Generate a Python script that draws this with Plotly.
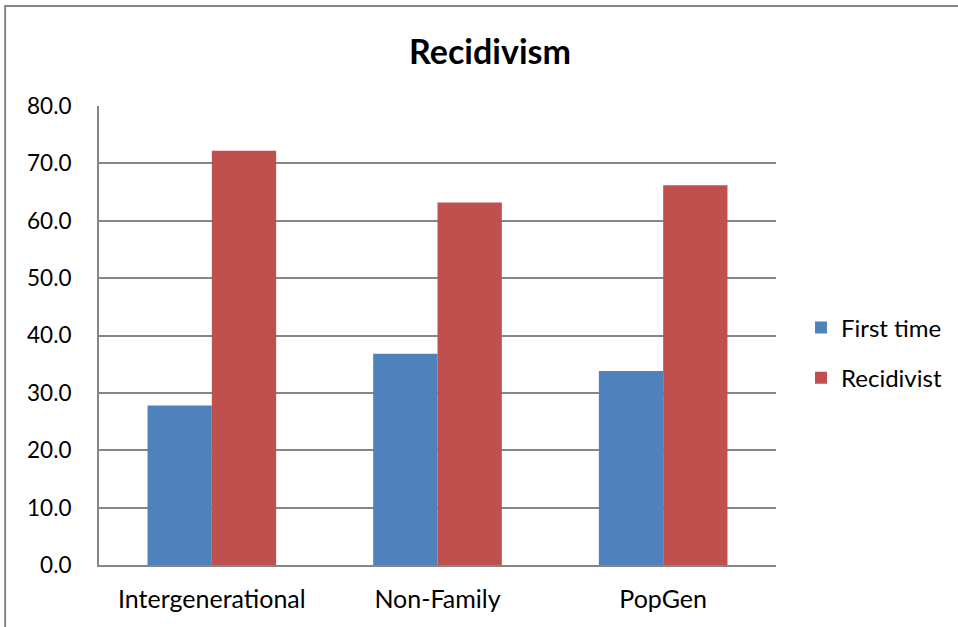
import plotly.graph_objects as go

categories = ["Intergenerational", "Non-Family", "PopGen"]
first_time = [27.8, 36.8, 33.8]
recidivist = [72.2, 63.2, 66.2]
y_ticks = [0, 10, 20, 30, 40, 50, 60, 70, 80]
y_tick_labels = ["0.0", "10.0", "20.0", "30.0", "40.0", "50.0", "60.0", "70.0", "80.0"]

FONT = "Lato"
L, R, T, B = 99, 958 - 777, 106, 627 - 565

fig = go.Figure()
fig.add_trace(go.Bar(name="First time", x=categories, y=first_time,
                     marker=dict(color="#4F81BD", line=dict(width=0)),
                     legendgroup="a"))
fig.add_trace(go.Bar(name="Recidivist", x=categories, y=recidivist,
                     marker=dict(color="#C0504D", line=dict(width=0)),
                     legendgroup="b"))

fig.update_layout(
    width=958, height=627,
    margin=dict(l=L, r=R, t=T, b=B),
    paper_bgcolor="white", plot_bgcolor="white",
    barmode="group", bargap=0.43, bargroupgap=0,
    font=dict(family=FONT, size=24, color="black"),
    title=dict(text="<b>Recidivism</b>", x=0.5115, xanchor="center",
               y=1 - 52 / 627, yanchor="middle", yref="container",
               font=dict(family=FONT, size=34, color="black")),
    legend=dict(x=(801 - L) / 678, xanchor="left", y=(565 - 353) / 459, yanchor="middle",
                font=dict(family=FONT, size=24), tracegroupgap=16,
                bgcolor="rgba(0,0,0,0)", itemwidth=30),
    xaxis=dict(showgrid=False, showline=True, linecolor="#868686", linewidth=2,
               ticks="", ticklabelstandoff=11, tickfont=dict(size=25)),
    yaxis=dict(range=[0, 80], tickvals=y_ticks, ticktext=y_tick_labels,
               showgrid=True, gridcolor="#868686", gridwidth=1.5,
               showline=True, linecolor="#868686", linewidth=2,
               zeroline=False, ticks="", ticklabelstandoff=21,
               tickfont=dict(size=22.5)),
    shapes=[dict(type="rect", xref="paper", yref="paper",
                 x0=(5 - L) / 678, x1=1.6, y0=-0.5, y1=(565 - 6) / 459,
                 line=dict(color="#868686", width=2), fillcolor="rgba(0,0,0,0)",
                 layer="below")],
)

fig.write_html("out.html")
